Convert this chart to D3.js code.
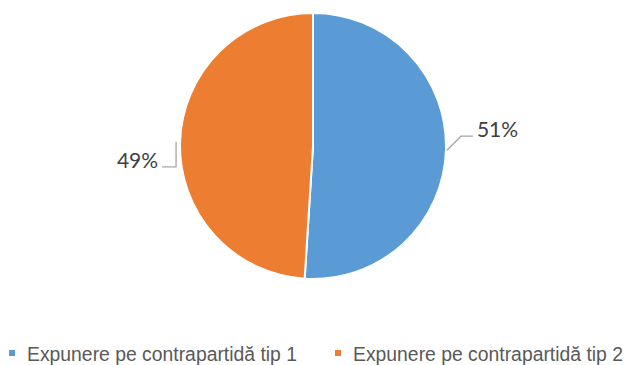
<!DOCTYPE html>
<html>
<head>
<meta charset="utf-8">
<script src="https://cdn.jsdelivr.net/npm/d3@7"></script>
<style>
  html, body { margin: 0; padding: 0; background: #fff; }
  svg { display: block; }
</style>
</head>
<body>
<svg id="chart" width="629" height="365"></svg>
<script>
const categories = ["Expunere pe contrapartidă tip 1", "Expunere pe contrapartidă tip 2"];
const values = [51, 49];
const colors = ["#5B9BD5", "#ED7D31"];

const svg = d3.select("#chart");
const cx = 313, cy = 146, R = 133;

const pie = d3.pie().sort(null).value(d => d);
const arcs = pie(values);
const arc = d3.arc().innerRadius(0).outerRadius(R);

const g = svg.append("g").attr("transform", `translate(${cx},${cy})`);

g.selectAll("path.slice").data(arcs).enter().append("path")
  .attr("class", "slice")
  .attr("d", arc)
  .attr("fill", (d, i) => colors[i])
  .attr("stroke", "#fff")
  .attr("stroke-width", 2);

// leader lines + labels, placed like Excel does it
const edge = d => {
  const a = (d.startAngle + d.endAngle) / 2;
  return [Math.sin(a) * (R + 1), -Math.cos(a) * (R + 1)];
};
const leader = [
  d => { const p = edge(d); return [p, [p[0] + 14, p[1] - 14], [p[0] + 26, p[1] - 14]]; },
  d => { const p = edge(d); return [[p[0] - 3, p[1]], [p[0] - 3, p[1] + 25], [p[0] - 17, p[1] + 25]]; }
];
const labelPos = [
  d => { const p = edge(d); return [p[0] + 30, p[1] - 13, "start"]; },
  d => { const p = edge(d); return [p[0] - 21, p[1] + 26, "end"]; }
];

g.selectAll("polyline.leader").data(arcs).enter().append("polyline")
  .attr("class", "leader")
  .attr("points", (d, i) => leader[i](d).map(p => p.join(",")).join(" "))
  .attr("fill", "none")
  .attr("stroke", "#A6A6A6")
  .attr("stroke-width", 1.3);

g.selectAll("text.lbl").data(arcs).enter().append("text")
  .attr("class", "lbl")
  .attr("x", (d, i) => labelPos[i](d)[0])
  .attr("y", (d, i) => labelPos[i](d)[1])
  .attr("text-anchor", (d, i) => labelPos[i](d)[2])
  .attr("font-family", "Lato, 'Open Sans', sans-serif")
  .attr("font-size", "21px")
  .attr("fill", "#404040")
  .text(d => d.data + "%");

// legend
const legendX = [9, 335];
const leg = svg.selectAll("g.leg").data(categories).enter().append("g")
  .attr("class", "leg")
  .attr("transform", (d, i) => `translate(${legendX[i]},0)`);
leg.append("rect")
  .attr("x", 0).attr("y", 350).attr("width", 6).attr("height", 6)
  .attr("fill", (d, i) => colors[i]);
leg.append("text")
  .attr("x", 18).attr("y", 361)
  .attr("font-family", "'Liberation Sans Narrow', 'Arial Narrow', 'Liberation Sans', Arial, sans-serif")
  .attr("font-size", "20px")
  .attr("fill", "#595959")
  .attr("textLength", 270)
  .attr("lengthAdjust", "spacingAndGlyphs")
  .text(d => d);
</script>
</body>
</html>
